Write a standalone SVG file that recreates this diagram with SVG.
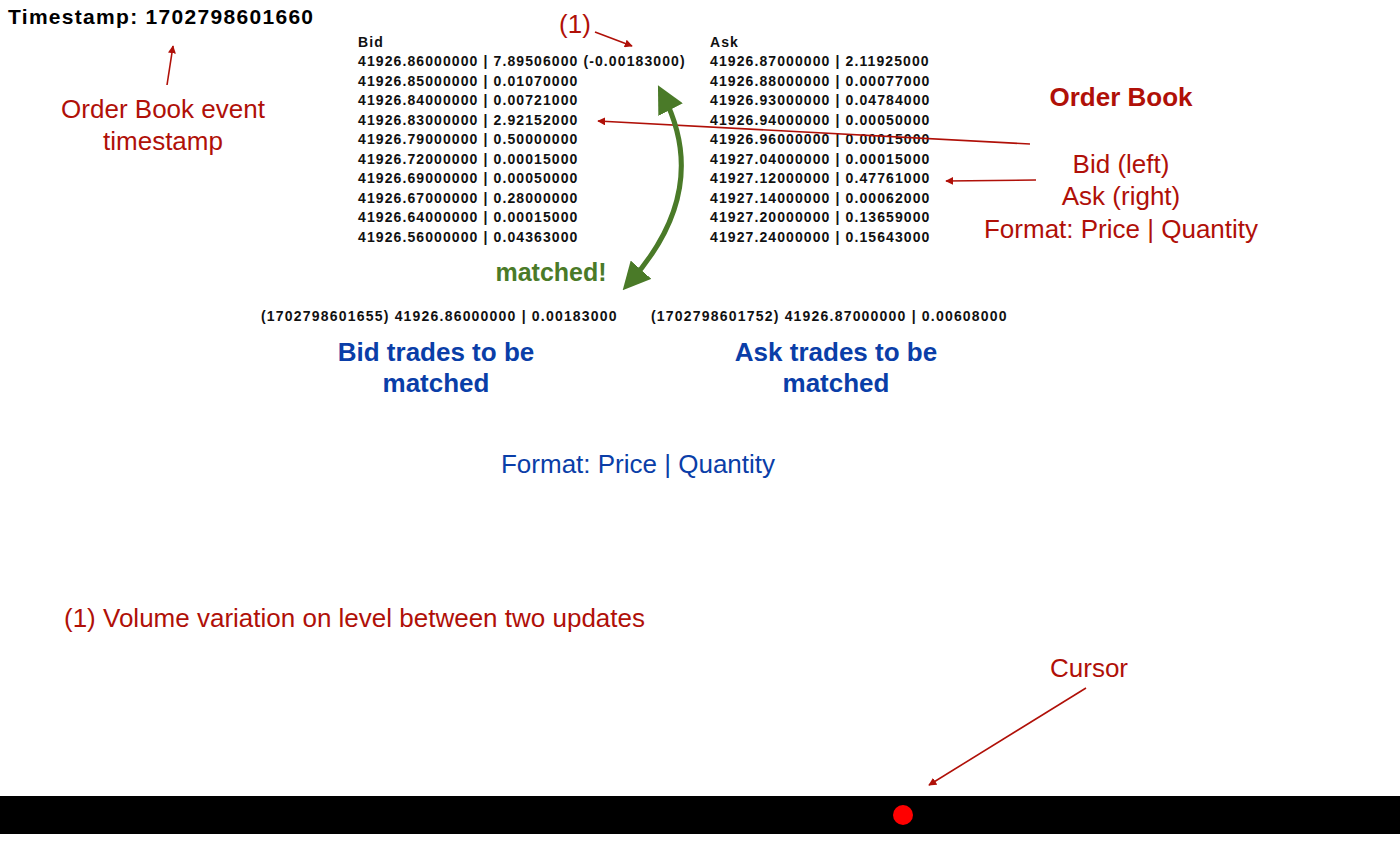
<svg xmlns="http://www.w3.org/2000/svg" width="1400" height="866" viewBox="0 0 1400 866">
<style>
.t{font-family:"Liberation Sans",Arial,sans-serif;font-weight:bold;font-size:14px;letter-spacing:1.1px;fill:#111}
.r{font-family:"Liberation Sans",Arial,sans-serif;font-size:26px;fill:#b01008}
.b{font-family:"Liberation Sans",Arial,sans-serif;font-size:26px;fill:#0a3ea8}
.rl{stroke:#b01008;stroke-width:1.6;fill:none;marker-end:url(#ra)}
</style>
<defs>
<marker id="ra" viewBox="0 0 10 10" refX="9" refY="5" markerWidth="8" markerHeight="8" markerUnits="userSpaceOnUse" orient="auto"><path d="M0 0L10 5L0 10z" fill="#b01008"/></marker>
<marker id="ga" viewBox="0 0 10 10" refX="6" refY="5" markerWidth="5.5" markerHeight="5.5" orient="auto-start-reverse"><path d="M0 0L10 5L0 10z" fill="#4a7a28"/></marker>
</defs>
<rect width="1400" height="866" fill="#fff"/>
<g id="timestamp"><text x="8" y="24" style="font-family:'Liberation Sans',Arial,sans-serif;font-weight:bold;font-size:21px;letter-spacing:1.3px">Timestamp: 1702798601660</text></g>
<g id="ts-label"><text class="r" x="163" y="118" text-anchor="middle">Order Book event</text><text class="r" x="163" y="150" text-anchor="middle">timestamp</text></g>
<g id="note1-mark"><text class="r" x="575" y="33" text-anchor="middle">(1)</text></g>
<g id="bid-table" class="t">
<text x="358" y="47">Bid</text>
<text x="358" y="66">41926.86000000 | 7.89506000 (-0.00183000)</text>
<text x="358" y="85.5">41926.85000000 | 0.01070000</text>
<text x="358" y="105">41926.84000000 | 0.00721000</text>
<text x="358" y="124.5">41926.83000000 | 2.92152000</text>
<text x="358" y="144">41926.79000000 | 0.50000000</text>
<text x="358" y="163.5">41926.72000000 | 0.00015000</text>
<text x="358" y="183">41926.69000000 | 0.00050000</text>
<text x="358" y="202.5">41926.67000000 | 0.28000000</text>
<text x="358" y="222">41926.64000000 | 0.00015000</text>
<text x="358" y="241.5">41926.56000000 | 0.04363000</text>
</g>
<g id="ask-table" class="t">
<text x="710" y="47">Ask</text>
<text x="710" y="66">41926.87000000 | 2.11925000</text>
<text x="710" y="85.5">41926.88000000 | 0.00077000</text>
<text x="710" y="105">41926.93000000 | 0.04784000</text>
<text x="710" y="124.5">41926.94000000 | 0.00050000</text>
<text x="710" y="144">41926.96000000 | 0.00015000</text>
<text x="710" y="163.5">41927.04000000 | 0.00015000</text>
<text x="710" y="183">41927.12000000 | 0.47761000</text>
<text x="710" y="202.5">41927.14000000 | 0.00062000</text>
<text x="710" y="222">41927.20000000 | 0.13659000</text>
<text x="710" y="241.5">41927.24000000 | 0.15643000</text>
</g>
<g id="ob-label"><text class="r" x="1121" y="106" text-anchor="middle" font-weight="bold">Order Book</text>
<text class="r" x="1121" y="173" text-anchor="middle">Bid (left)</text>
<text class="r" x="1121" y="205" text-anchor="middle">Ask (right)</text>
<text class="r" x="1121" y="238" text-anchor="middle">Format: Price | Quantity</text></g>
<g id="matched"><text x="551" y="281" text-anchor="middle" style="font-family:'Liberation Sans',Arial,sans-serif;font-weight:bold;font-size:25px;fill:#4a7a28">matched!</text></g>
<g id="bid-trades"><text class="t" x="261" y="321" style="letter-spacing:1.2px">(1702798601655) 41926.86000000 | 0.00183000</text>
<text class="b" x="436" y="361" text-anchor="middle" font-weight="bold">Bid trades to be</text>
<text class="b" x="436" y="392" text-anchor="middle" font-weight="bold">matched</text></g>
<g id="ask-trades"><text class="t" x="651" y="321" style="letter-spacing:1.2px">(1702798601752) 41926.87000000 | 0.00608000</text>
<text class="b" x="836" y="361" text-anchor="middle" font-weight="bold">Ask trades to be</text>
<text class="b" x="836" y="392" text-anchor="middle" font-weight="bold">matched</text></g>
<g id="format"><text class="b" x="638" y="473" text-anchor="middle">Format: Price | Quantity</text></g>
<g id="note1"><text class="r" x="64" y="627">(1) Volume variation on level between two updates</text></g>
<g id="cursor-label"><text class="r" x="1089" y="677" text-anchor="middle">Cursor</text></g>
<g id="timeline"><rect x="0" y="796" width="1400" height="38" fill="#000"/><circle cx="903" cy="815" r="10" fill="#f00"/></g>
<g id="connectors">
<line class="rl" x1="167" y1="85" x2="173" y2="46"/>
<line class="rl" x1="595" y1="32" x2="632" y2="46"/>
<line class="rl" x1="1030" y1="144" x2="598" y2="121"/>
<line class="rl" x1="1036" y1="180" x2="946" y2="181"/>
<line class="rl" x1="1086" y1="688" x2="929" y2="785"/>
<path d="M663 95 Q712 190 630 282" stroke="#4a7a28" stroke-width="5" fill="none" marker-start="url(#ga)" marker-end="url(#ga)"/>
</g>
</svg>
